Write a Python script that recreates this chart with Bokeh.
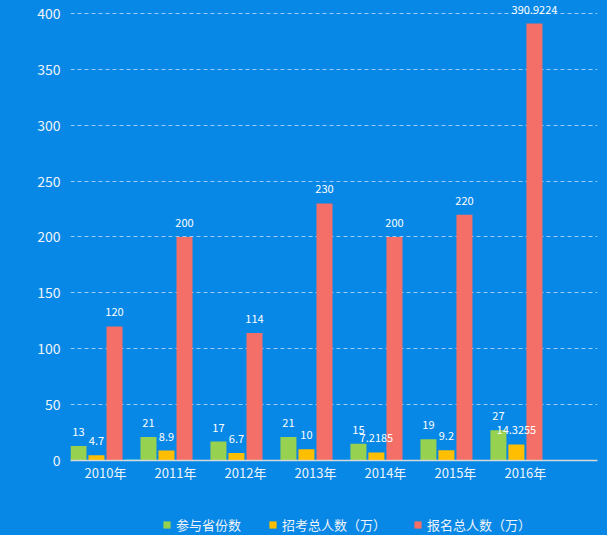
from bokeh.plotting import figure
from bokeh.models import ColumnDataSource, Legend, LegendItem, FixedTicker, Range1d
from bokeh.layouts import column
from bokeh.core.properties import value
from bokeh.embed import file_html
from bokeh.resources import INLINE

years = ["2010年", "2011年", "2012年", "2013年", "2014年", "2015年", "2016年"]
provinces = [13, 21, 17, 21, 15, 19, 27]
exam_total = [4.7, 8.9, 6.7, 10, 7.2185, 9.2, 14.3255]
signup_total = [120, 200, 114, 230, 200, 220, 390.9224]
extra_series = [0.8, 0, 0, 0, 0, 0, 0]
label_provinces = ["13", "21", "17", "21", "15", "19", "27"]
label_exam = ["4.7", "8.9", "6.7", "10", "7.2185", "9.2", "14.3255"]
label_signup = ["120", "200", "114", "230", "200", "220", "390.9224"]
series_names = ["参与省份数", "招考总人数（万）", "报名总人数（万）"]

BG = "#0788e6"
FONT = "Noto Sans CJK SC"
TXT = "#eef4fa"
colors = ["#96d14f", "#ffbe00", "#f46f67", "#44d3e6"]
offsets = [-0.386, -0.129, 0.129, 0.386]
bw = 0.229

p = figure(width=607, height=490, output_backend="svg", toolbar_location=None,
           x_range=Range1d(-0.5, 7.03), y_range=Range1d(0, 411.6),
           background_fill_color=BG, border_fill_color=BG,
           min_border_left=70, min_border_right=10, min_border_top=0, min_border_bottom=30)
p.outline_line_color = None

xs = list(range(len(years)))
series = [(provinces, label_provinces), (exam_total, label_exam),
          (signup_total, label_signup), (extra_series, None)]
sources = []
for i, (vals, labels) in enumerate(series):
    src = ColumnDataSource(dict(x=[x + offsets[i] for x in xs], top=vals,
                                lab=labels if labels else [""] * len(vals)))
    sources.append(src)
    p.vbar(x="x", top="top", width=bw, bottom=0, source=src,
           fill_color=colors[i], line_color=None)
for i, (vals, labels) in enumerate(series):
    if labels:
        p.text(x="x", y="top", text="lab", source=sources[i], text_align="center",
               text_baseline="middle", y_offset=-14, text_color="white",
               text_font=value(FONT), text_font_size="11px")

p.xaxis.ticker = FixedTicker(ticks=xs)
p.xaxis.major_label_overrides = {i: y for i, y in enumerate(years)}
p.xaxis.major_tick_line_color = None
p.xaxis.major_tick_out = 0
p.xaxis.major_tick_in = 0
p.xaxis.minor_tick_line_color = None
p.xaxis.axis_line_color = "#d8d8d8"
p.xaxis.axis_line_width = 1.5
p.xaxis.major_label_text_color = TXT
p.xaxis.major_label_text_font = FONT
p.xaxis.major_label_text_font_size = "13px"
p.xaxis.major_label_standoff = 2

p.yaxis.ticker = FixedTicker(ticks=list(range(0, 401, 50)))
p.yaxis.axis_line_color = None
p.yaxis.major_tick_line_color = None
p.yaxis.major_tick_out = 0
p.yaxis.major_tick_in = 0
p.yaxis.minor_tick_line_color = None
p.yaxis.major_label_text_color = TXT
p.yaxis.major_label_text_font = FONT
p.yaxis.major_label_text_font_size = "14px"
p.yaxis.major_label_standoff = 10

p.xgrid.grid_line_color = None
p.ygrid.grid_line_color = "#bfe0fa"
p.ygrid.grid_line_alpha = 0.8
p.ygrid.grid_line_dash = "4 3"
p.ygrid.ticker = FixedTicker(ticks=list(range(50, 401, 50)))

# legend strip below the chart (same series, renderers hidden, only legend shown)
lg = figure(width=607, height=45, output_backend="svg", toolbar_location=None,
            x_range=Range1d(-0.5, 7.03), y_range=Range1d(0, 411.6),
            background_fill_color=BG, border_fill_color=BG,
            min_border=0)
lg.outline_line_color = None
lg.axis.visible = False
lg.grid.visible = False
lg_renderers = []
for i in range(3):
    r = lg.vbar(x="x", top="top", width=bw, bottom=0, source=sources[i],
                fill_color=colors[i], line_color=None)
    r.visible = False
    lg_renderers.append(r)
legend = Legend(items=[LegendItem(label=series_names[i], renderers=[lg_renderers[i]]) for i in range(3)],
                orientation="horizontal", location=(92, 1),
                background_fill_alpha=0, border_line_color=None,
                label_text_color=TXT, label_text_font=FONT, label_text_font_size="13px",
                glyph_width=9, glyph_height=9, spacing=27, label_standoff=5,
                margin=0, padding=0)
lg.add_layout(legend, "center")

layout = column(p, lg, spacing=0)
html = file_html(layout, INLINE)
html = html.replace("</head>", "<style>html, body { margin: 0; background: %s; }</style></head>" % BG, 1)
open("out.html", "w").write(html)
